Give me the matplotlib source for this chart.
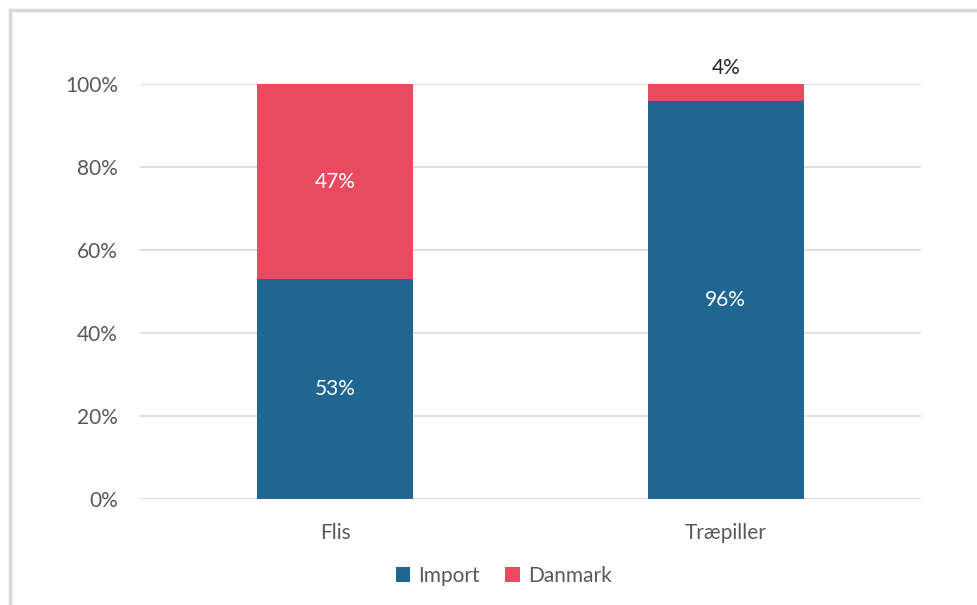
import matplotlib.pyplot as plt

categories = ['Flis', 'Træpiller']
import_share = [53, 96]
danmark_share = [47, 4]
series_names = ['Import', 'Danmark']
y_ticks = [0, 20, 40, 60, 80, 100]

blue = '#1F6690'
red = '#E84A5F'
grey_text = '#595959'

plt.rcParams['font.family'] = ['Lato', 'DejaVu Sans']

fig = plt.figure(figsize=(9.78, 6.05), dpi=100)
ax = fig.add_axes([140 / 978, 1 - 499 / 605, 781 / 978, 415 / 605])

x = range(len(categories))
b1 = ax.bar(x, import_share, width=0.4, color=blue, label=series_names[0], zorder=3)
b2 = ax.bar(x, danmark_share, width=0.4, bottom=import_share, color=red,
            label=series_names[1], zorder=3)

# value labels
for i in x:
    ax.text(i, import_share[i] / 2, f'{import_share[i]}%', ha='center', va='center',
            color='white', fontsize=15, zorder=4)
    if danmark_share[i] > 10:
        ax.text(i, import_share[i] + danmark_share[i] / 2, f'{danmark_share[i]}%',
                ha='center', va='center', color='white', fontsize=15, zorder=4)
    else:
        ax.text(i, 100 + 1.5, f'{danmark_share[i]}%', ha='center', va='bottom',
                color='#262626', fontsize=15, zorder=4)

ax.set_xlim(-0.5, 1.5)
ax.set_ylim(0, 100)
ax.set_yticks(y_ticks)
ax.set_yticklabels([f'{t}%' for t in y_ticks])
ax.set_xticks(list(x))
ax.set_xticklabels(categories)
ax.tick_params(axis='both', length=0, labelsize=15, colors=grey_text)
ax.tick_params(axis='x', pad=17)
ax.tick_params(axis='y', pad=16)
ax.grid(axis='y', color='#D9D9D9', linewidth=1.2, zorder=0)
for s in ax.spines.values():
    s.set_visible(False)

leg = fig.legend(handles=[b1, b2], loc='center', bbox_to_anchor=(0.515, 1 - 576 / 605),
                 ncol=2, frameon=False, fontsize=15, handlelength=0.7, handleheight=0.7,
                 handletextpad=0.4, columnspacing=1.2)
for t in leg.get_texts():
    t.set_color(grey_text)

# outer chart frame (only left and top edges are visible in the crop)
fig.add_artist(plt.Line2D([9.5 / 978, 9.5 / 978], [0, 1 - 10 / 605], color='#D9D9D9', lw=2.5))
fig.add_artist(plt.Line2D([9.5 / 978, 1], [1 - 10 / 605, 1 - 10 / 605], color='#D9D9D9', lw=2.5))

fig.savefig('out.png', dpi=100)
